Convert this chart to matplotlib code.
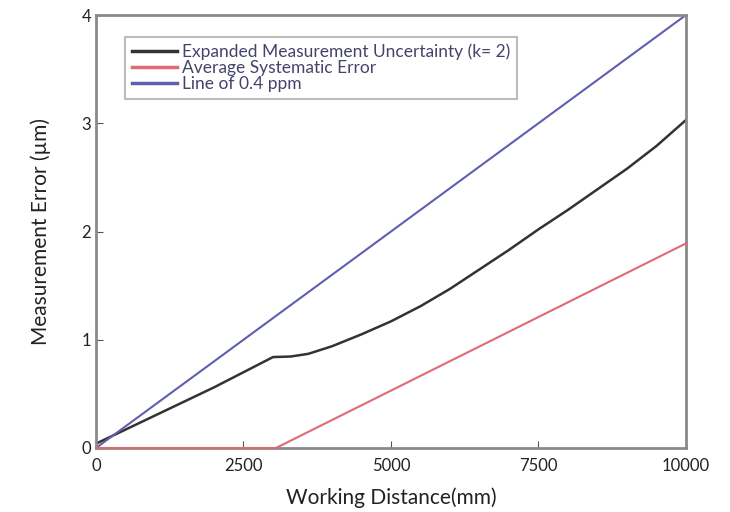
# Measurement error vs working distance
import matplotlib
matplotlib.use('Agg')
import matplotlib.pyplot as plt

plt.rcParams['font.family'] = ['Lato', 'DejaVu Sans']

# Datos
dist_incert = [0, 500, 1000, 1500, 2000, 2500, 3000, 3300, 3600, 4000, 4500, 5000,
               5500, 6000, 6500, 7000, 7500, 8000, 8500, 9000, 9500, 10000]
incert = [0.04, 0.17, 0.30, 0.43, 0.56, 0.70, 0.84, 0.845, 0.87, 0.94, 1.05, 1.17,
          1.31, 1.47, 1.65, 1.83, 2.02, 2.20, 2.39, 2.58, 2.79, 3.03]

dist_sist = [0, 3050, 10000]
sistematico = [0.0, 0.0, 1.89]

dist_ppm = [0, 10000]
linea_ppm = [0.0, 4.0]

etiquetas = ['Expanded Measurement Uncertainty (k= 2)',
             'Average Systematic Error',
             'Line of 0.4 ppm']

fig = plt.figure(figsize=(7.3, 5.12), dpi=100)
ax = fig.add_axes([0.1315, 0.125, 0.8082, 0.8457])

ax.plot(dist_incert, incert, color='#333333', lw=1.8, label=etiquetas[0])
ax.plot(dist_sist, sistematico, color='#e06a74', lw=1.5, label=etiquetas[1],
        zorder=5, clip_on=False)
ax.plot(dist_ppm, linea_ppm, color='#5f5fb0', lw=1.5, label=etiquetas[2])

ax.set_xlim(0, 10000)
ax.set_ylim(0, 4)
ax.set_xticks([0, 2500, 5000, 7500, 10000])
ax.set_yticks([0, 1, 2, 3, 4])
ax.tick_params(direction='in', length=5, color='#555555', labelsize=12, labelcolor='#222222')
ax.tick_params(axis='x', pad=7)
for s in ax.spines.values():
    s.set_color('#8a8a8a')
    s.set_linewidth(2)

ax.set_xlabel('Working Distance(mm)', fontsize=15, color='#222222', labelpad=10)
ax.set_ylabel('Measurement Error (µm)', fontsize=15, color='#222222', labelpad=22)

leg = ax.legend(loc='upper left', bbox_to_anchor=(0.049, 0.95), borderaxespad=0,
                fontsize=12.5, frameon=True, fancybox=False, handlelength=2.6,
                labelspacing=0.0, borderpad=0.4, handletextpad=0.3, labelcolor='#44446a')
leg.get_frame().set_edgecolor('#999999')
leg.get_frame().set_linewidth(1.2)
for linea in leg.get_lines():
    linea.set_linewidth(2.5)

fig.savefig('out.png', dpi=100)
